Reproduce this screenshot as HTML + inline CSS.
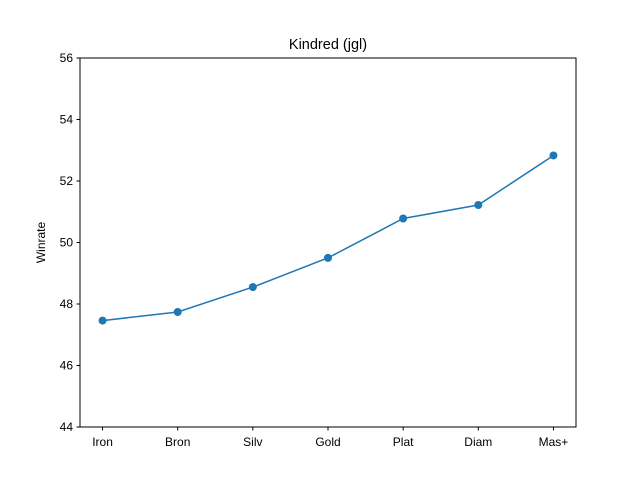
<!DOCTYPE html>
<html><head><meta charset="utf-8"><style>
body{margin:0;background:#fff;}
svg{display:block;font-family:"Liberation Sans","DejaVu Sans",sans-serif;}
</style></head><body>
<svg id="chart" width="640" height="480">
<rect width="640" height="480" fill="#fff"/>
<text x="328" y="49" text-anchor="middle" font-size="14.5">Kindred (jgl)</text>
<text transform="translate(45,242.5) rotate(-90)" text-anchor="middle" font-size="12">Winrate</text>
<g id="ticks"></g>
<g id="series"></g>
<rect x="80" y="58" width="496" height="369" fill="none" stroke="#000" stroke-width="1"/>
</svg>
<script>
const categories = ["Iron","Bron","Silv","Gold","Plat","Diam","Mas+"];
const winrates = [47.46, 47.74, 48.55, 49.50, 50.78, 51.22, 52.83];
const yTicks = [44,46,48,50,52,54,56];
const L=80,R=576,T=58,B=427;
const xs=i=>L+(i+0.3)/(categories.length-1+0.6)*(R-L);
const ys=v=>B-(v-44)/(56-44)*(B-T);
const NS="http://www.w3.org/2000/svg";
const tk=document.getElementById('ticks'), se=document.getElementById('series');
function mk(tag,attrs,parent){const e=document.createElementNS(NS,tag);for(const k in attrs)e.setAttribute(k,attrs[k]);parent.appendChild(e);return e;}
yTicks.forEach(v=>{
  const y=ys(v);
  const l=mk('line',{x1:L-3.5,x2:L,y1:y,y2:y,stroke:'#000'},tk);
  
  
  const t=mk('text',{x:L-7,y:y+4,'text-anchor':'end','font-size':'12'},tk);
  t.textContent=v;
  
  
});
categories.forEach((c,i)=>{
  const x=xs(i);
  const l=mk('line',{x1:x,x2:x,y1:B,y2:B+3.5,stroke:'#000'},tk);
  
  
  const t=mk('text',{x:x,y:B+19,'text-anchor':'middle','font-size':'12'},tk);
  t.textContent=c;
  
  
});
const pl=mk('polyline',{points:winrates.map((v,i)=>xs(i)+','+ys(v)).join(' '),fill:'none',stroke:'#1f77b4','stroke-width':'1.5'},se);


winrates.forEach((v,i)=>{
  const c=mk('circle',{cx:xs(i),cy:ys(v),r:4,fill:'#1f77b4'},se);
  
  
});
</script>
</body></html>
